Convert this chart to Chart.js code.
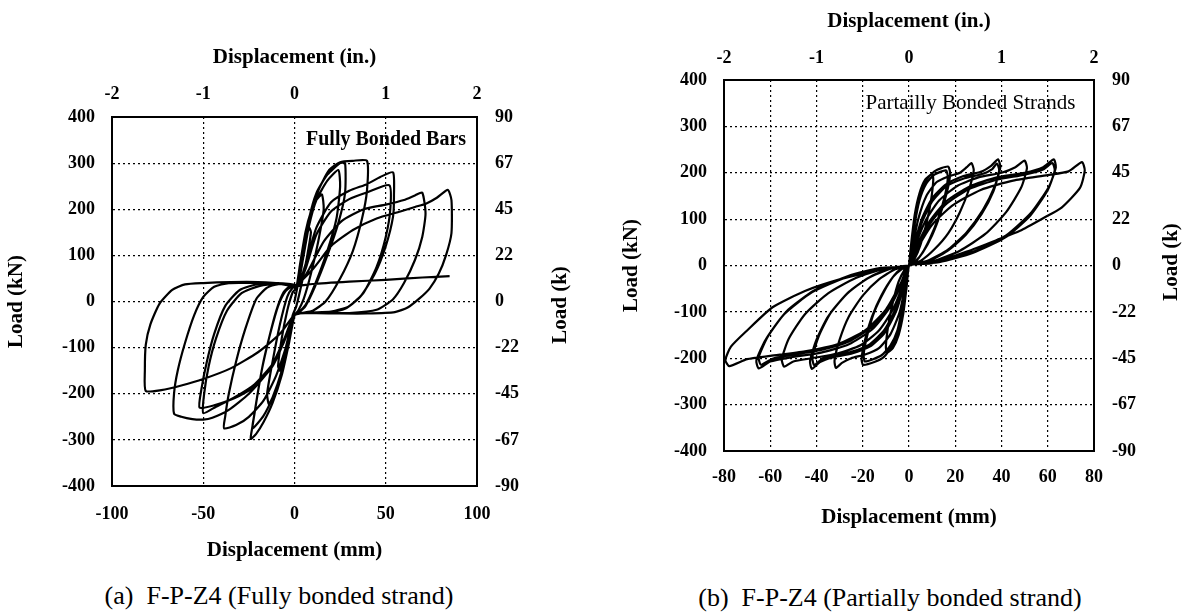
<!DOCTYPE html>
<html><head><meta charset="utf-8">
<script src="https://cdn.jsdelivr.net/npm/chart.js@4.4.1/dist/chart.umd.min.js"></script>
<style>
html,body{margin:0;padding:0;background:#fff;}
body{width:1193px;height:613px;position:relative;overflow:hidden;}
#wa{position:absolute;left:0;top:0;width:596px;height:570px;}
#wb{position:absolute;left:596px;top:0;width:597px;height:570px;}
.cap{position:absolute;font:26px "Liberation Serif","Times New Roman",serif;color:#000;white-space:pre;transform:translate(-50%,-50%);line-height:1;}
</style></head>
<body>
<div id="wa"><canvas id="ca" width="596" height="570" style="width:596px;height:570px"></canvas></div>
<div id="wb"><canvas id="cb" width="597" height="570" style="width:597px;height:570px"></canvas></div>
<div class="cap" style="left:279px;top:596px;">(a)  F-P-Z4 (Fully bonded strand)</div>
<div class="cap" style="left:890px;top:598px;">(b)  F-P-Z4 (Partially bonded strand)</div>
<script>
// ---------- DATA ----------
// Tick labels
const inchTicks = ['-2', '-1', '0', '1', '2'];
const kipTicks = ['-90', '-67', '-45', '-22', '0', '22', '45', '67', '90']; // bottom -> top

// (a) Fully bonded bars: displacement (mm) and load (kN), read along the traced path
const dispA = [
  0, 2, 4, 6, 8, 9, 7, 4, 1, -1, -3, -6, -8, -9, -7, -4, -1, 1,
  3, 6, 9, 12, 15, 16, 13, 9, 5, 2, 0, -3, -6, -10, -14, -15, -12, -8, -4, -1, 1,
  2, 5, 8, 12, 18, 25, 27.7, 27.7, 24, 18, 11, 6, 2, 0, -3, -7, -12, -17, -21, -24, -23, -21, -18, -14, -10, -6, -2, 1,
  2, 5, 8, 12, 18, 24, 25, 23, 18, 11, 6, 2, 0, -3, -7, -12, -17, -23, -22, -20, -17, -13, -9, -5, -1, 1,
  4, 8, 13, 19, 25, 32, 39.7, 39.7, 37, 32, 25, 17, 10, 4, 0, -4, -10, -17, -25, -32, -38.6, -38, -36, -32, -27, -21, -15, -8, -2, 2,
  6, 12, 20, 30, 40, 47, 54, 54.5, 54, 50, 44, 36, 28, 18, 8, 0, -5, -12, -22, -33, -44, -52, -51, -48, -44, -38, -30, -20, -10, -2, 2,
  6, 12, 20, 30, 40, 52, 52.5, 50, 45, 38, 30, 20, 8, 0, -5, -12, -22, -33, -43, -50, -49.5, -47, -43, -37, -29, -19, -9, -1, 2,
  8, 16, 26, 38, 50, 60, 66, 70, 71.8, 70, 66, 60, 54, 45, 30, 15, 3, 0, -6, -14, -25, -36, -45, -50, -56, -62, -66, -66, -64, -60, -55, -50, -44, -36, -20, -8, 0,
  10, 20, 32, 45, 58, 66, 72, 78, 84, 86, 86, 83, 79, 74, 68, 62, 55, 40, 25, 12, 3, 0, -8, -20, -35, -50, -62, -73, -81.5, -82, -81.5, -79, -74, -67, -60, -50, -35, -20, -5, 0,
  10, 30, 50, 70, 85
];
const loadA = [
  0, 40, 90, 130, 160, 150, 100, 40, -10, -30, -70, -120, -150, -140, -80, -20, 20, 30,
  80, 150, 195, 220, 232, 200, 130, 60, 5, -20, -30, -80, -140, -190, -222, -200, -130, -50, 10, 30, 32,
  40, 110, 180, 235, 275, 300, 300, 235, 170, 100, 30, -10, -25, -30, -90, -160, -220, -262, -287, -298, -270, -220, -150, -80, -20, 20, 35, 35,
  35, 100, 165, 220, 262, 285, 250, 180, 110, 35, -8, -24, -28, -85, -150, -208, -248, -275, -245, -195, -130, -65, -10, 22, 33, 34,
  80, 170, 240, 285, 302, 305, 305, 240, 180, 110, 50, 0, -20, -25, -30, -90, -160, -215, -250, -268, -275, -250, -200, -130, -60, 5, 30, 38, 38, 35,
  80, 160, 215, 240, 255, 270, 280, 230, 184, 120, 60, 10, -15, -24, -25, -28, -80, -140, -185, -210, -225, -230, -190, -130, -70, -10, 25, 38, 40, 38, 35,
  70, 145, 195, 222, 237, 252, 200, 140, 75, 20, -10, -22, -24, -28, -75, -135, -180, -208, -228, -242, -200, -140, -80, -20, 18, 34, 38, 36, 34,
  70, 130, 175, 200, 210, 220, 230, 236, 191, 140, 90, 40, 5, -18, -25, -25, -25, -30, -90, -150, -200, -235, -252, -256, -255, -250, -243, -199, -150, -90, -30, 10, 32, 40, 40, 38, 34,
  70, 120, 155, 180, 195, 205, 212, 225, 242, 220, 148, 100, 60, 28, 5, -13, -23, -26, -26, -25, -24, -28, -70, -110, -145, -168, -182, -192, -194, -150, -94, -50, -5, 25, 37, 40, 42, 42, 38, 33,
  38, 43, 47, 52, 55
];

// (b) Partially bonded strands: displacement (mm) and load (kN)
const dispB = [
  0, 1, 2.5, 4.5, 7, 10, 10.5, 9.5, 7.5, 5, 2.5, 0, -1, -2.5, -4.5, -7, -9.5, -10, -9, -7, -4.5, -2, 0,
  1, 2.5, 4.5, 7.5, 11, 14, 17, 17.8, 16.5, 13.5, 10, 6, 2.5, 0, -1, -3, -5, -7.6, -10.8, -15, -19.9, -20.5, -19, -16, -12, -7, -3, 0,
  1, 2.5, 4.5, 7.5, 11, 16, 16.8, 15.5, 12.5, 9, 5.5, 2.5, 0, -1, -3, -5, -8, -12, -19, -19.6, -18, -15, -11, -6.5, -3, 0,
  1.5, 4, 7.5, 12, 17, 22, 25, 27, 28, 26, 22, 17, 11, 5, 0, -1.5, -4, -8, -13, -19, -25, -29, -31.6, -32.2, -30, -26, -20, -13, -6, 0,
  2, 5.5, 10, 16, 23, 31, 35.5, 38.5, 39.5, 37, 32, 25, 17, 8, 0, -2, -5.5, -10.5, -17, -25, -33, -38.5, -42, -42.8, -40, -35, -27, -18, -8, 0,
  2, 5.5, 10, 16, 24, 32, 36, 38, 39, 36.5, 31.5, 24.5, 16.5, 8, 0, -2, -5.5, -10.5, -17, -25, -34, -38, -41, -41.8, -39, -34, -26, -17, -8, 0,
  2.5, 7, 13, 21, 30, 40, 46, 50, 51, 48.5, 42, 33, 22, 10, 0, -2.5, -7, -13, -21, -31, -42, -50, -54, -55, -52, -45, -35, -23, -10, 0,
  3, 8.5, 16, 26, 38, 50, 58, 62.6, 63.5, 60.5, 53, 42, 28, 13, 0, -3, -8.5, -16, -26, -38, -51, -60, -65, -66, -62, -54, -42, -27, -12, 0,
  3, 8.5, 16, 26, 38, 50, 58, 62, 63, 60, 52.5, 41.5, 27.5, 13, 0, -3, -8.5, -16, -26, -38, -51, -59, -64, -65, -61, -53, -41, -26, -12, 0,
  3.5, 10, 19, 31, 45, 60, 69, 74.8, 76, 74, 66, 58, 48, 38, 25, 10, 0, -3.5, -10, -19, -31, -45, -60, -70, -77.7, -79.4, -77, -70, -59, -45, -30, -15, -5, 0
];
const loadB = [
  0, 50, 110, 155, 185, 197, 185, 140, 90, 45, 15, 0, -45, -105, -150, -178, -188, -175, -130, -80, -35, -10, 0,
  40, 100, 150, 185, 203, 210, 213, 198, 160, 110, 65, 28, 8, 0, -40, -100, -150, -175, -197, -208, -214, -200, -160, -110, -65, -25, -7, 0,
  35, 90, 140, 177, 196, 205, 190, 150, 100, 58, 25, 7, 0, -35, -92, -140, -172, -194, -207, -192, -150, -100, -58, -22, -6, 0,
  40, 100, 150, 180, 192, 200, 212, 221, 205, 165, 115, 70, 35, 10, 0, -40, -100, -148, -178, -192, -200, -210, -221, -205, -160, -110, -65, -30, -8, 0,
  40, 100, 145, 175, 192, 202, 215, 229, 212, 170, 120, 72, 35, 10, 0, -40, -98, -145, -175, -190, -198, -208, -223, -206, -160, -110, -62, -28, -7, 0,
  35, 92, 138, 170, 188, 198, 208, 220, 205, 160, 112, 66, 31, 8, 0, -35, -90, -138, -170, -186, -195, -203, -215, -198, -152, -103, -57, -25, -6, 0,
  40, 95, 140, 172, 190, 200, 212, 226, 210, 168, 115, 68, 32, 8, 0, -40, -95, -140, -172, -190, -200, -207, -218, -202, -158, -105, -60, -27, -6, 0,
  38, 92, 138, 170, 190, 200, 212, 229, 212, 170, 115, 65, 30, 8, 0, -38, -92, -138, -170, -188, -198, -207, -222, -205, -160, -105, -58, -25, -6, 0,
  34, 86, 132, 165, 185, 196, 207, 221, 205, 163, 108, 60, 27, 7, 0, -34, -86, -132, -164, -182, -193, -201, -214, -198, -153, -99, -54, -22, -5, 0,
  36, 88, 130, 163, 183, 195, 203, 223, 205, 168, 125, 102, 75, 55, 30, 5, 0, -38, -95, -140, -170, -185, -195, -202, -217, -204, -175, -140, -90, -55, -30, -12, -3, 0
];

// ---------- CHART HELPERS ----------
const SERIF = '"Liberation Serif", "Times New Roman", serif';
const tickFont = { family: SERIF, size: 18, weight: 'bold' };
const titleFont = { family: SERIF, size: 21, weight: 'bold' };

const extraText = {
  id: 'extraText',
  afterDraw(chart, args, o) {
    const ctx = chart.ctx;
    ctx.save();
    ctx.fillStyle = '#000';
    ctx.font = 'bold 21px ' + SERIF;
    ctx.translate(o.rightTitleX, o.rightTitleY);
    ctx.rotate(-Math.PI / 2);
    ctx.textAlign = 'center';
    ctx.textBaseline = 'middle';
    ctx.fillText(o.rightTitle, 0, 0);
    ctx.restore();
    ctx.save();
    ctx.fillStyle = '#000';
    ctx.font = o.noteFont;
    ctx.textAlign = 'right';
    ctx.textBaseline = 'middle';
    ctx.fillText(o.note, chart.scales.x.getPixelForValue(o.noteX), chart.scales.y.getPixelForValue(o.noteY));
    ctx.restore();
  }
};

function makeChart(id, disp, load, cfg) {
  const pts = disp.map((d, i) => ({ x: d, y: load[i] }));
  return new Chart(document.getElementById(id), {
    type: 'scatter',
    data: { datasets: [{ data: pts, showLine: true, borderColor: '#000', borderWidth: 2.2, pointRadius: 0, fill: false, tension: 0.2 }] },
    plugins: [extraText],
    options: {
      responsive: false, animation: false, events: [],
      layout: { padding: 0 },
      plugins: {
        legend: { display: false }, tooltip: { enabled: false },
        extraText: cfg.text
      },
      scales: {
        x: {
          type: 'linear', position: 'bottom', min: cfg.xMin, max: cfg.xMax,
          ticks: { stepSize: cfg.xStep, color: '#000', font: tickFont, padding: cfg.bottomPad, maxRotation: 0, autoSkip: false },
          grid: { color: '#000', lineWidth: 1.2, drawTicks: false },
          border: { display: true, color: '#000', width: 2, dash: [2, 3] },
          title: { display: true, text: 'Displacement (mm)', color: '#000', font: titleFont, padding: { top: 0, bottom: cfg.bottomTitlePad } },
          afterFit: s => { s.height = cfg.bottomH; }
        },
        x2: {
          type: 'linear', position: 'top', min: -2, max: 2,
          ticks: { stepSize: 1, color: '#000', font: tickFont, padding: cfg.topPad, maxRotation: 0, autoSkip: false,
                   callback: (v, i) => inchTicks[i] },
          grid: { display: false, drawTicks: false },
          border: { display: true, color: '#000', width: 2 },
          title: { display: true, text: 'Displacement (in.)', color: '#000', font: titleFont, padding: { top: cfg.topTitlePad, bottom: 0 } },
          afterFit: s => { s.height = cfg.topH; }
        },
        y: {
          type: 'linear', position: 'left', min: -400, max: 400,
          ticks: { stepSize: 100, color: '#000', font: tickFont, padding: 17, autoSkip: false },
          grid: { color: '#000', lineWidth: 1.2, drawTicks: false },
          border: { display: true, color: '#000', width: 2, dash: [2, 3] },
          title: { display: true, text: 'Load (kN)', color: '#000', font: titleFont, padding: { top: cfg.leftTitlePad, bottom: 0 } },
          afterFit: s => { s.width = cfg.leftW; }
        },
        y2: {
          type: 'linear', position: 'right', min: -400, max: 400,
          ticks: { stepSize: 100, color: '#000', font: tickFont, padding: 18, autoSkip: false,
                   callback: (v, i) => kipTicks[i] },
          grid: { display: false, drawTicks: false },
          border: { display: true, color: '#000', width: 2 },
          afterFit: s => { s.width = cfg.rightW; }
        }
      }
    }
  });
}

makeChart('ca', dispA, loadA, {
  xMin: -100, xMax: 100, xStep: 50,
  leftW: 112, rightW: 119, topH: 117, bottomH: 84,
  bottomPad: 18, topPad: 12, bottomTitlePad: 7, topTitlePad: 45, leftTitlePad: 4,
  text: { rightTitle: 'Load (k)', rightTitleX: 561, rightTitleY: 305,
          note: 'Fully Bonded Bars', noteFont: 'bold 20px ' + SERIF, noteX: 94, noteY: 350 }
});
makeChart('cb', dispB, loadB, {
  xMin: -80, xMax: 80, xStep: 20,
  leftW: 128, rightW: 99, topH: 80, bottomH: 119,
  bottomPad: 16, topPad: 11, bottomTitlePad: 40, topTitlePad: 9, leftTitlePad: 23,
  text: { rightTitle: 'Load (k)', rightTitleX: 576, rightTitleY: 262,
          note: 'Partailly Bonded Strands', noteFont: '21px ' + SERIF, noteX: 72, noteY: 350 }
});
</script>
</body></html>
